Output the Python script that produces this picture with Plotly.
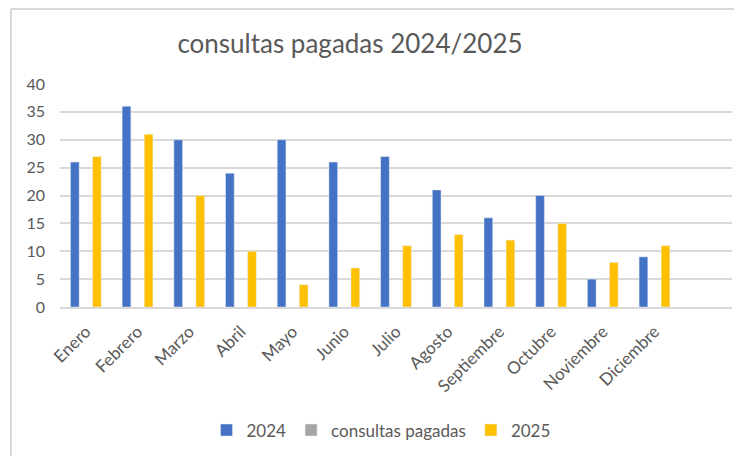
import plotly.graph_objects as go

months = ["Enero", "Febrero", "Marzo", "Abril", "Mayo", "Junio", "Julio",
          "Agosto", "Septiembre", "Octubre", "Noviembre", "Diciembre"]
v2024 = [26, 36, 30, 24, 30, 26, 27, 21, 16, 20, 5, 9]
v_pagadas = [None] * 12
v2025 = [27, 31, 20, 10, 4, 7, 11, 13, 12, 15, 8, 11]

# page has an 8px body margin; work in target-window pixels and shift
OFF = 8
W, H = 742 - OFF, 456 - OFF
L = 60 - OFF
R = 742 - 732
T = 84 - OFF
B = H - (306.7 - OFF)
pw, ph = W - L - R, H - T - B

def px(x):
    return (x - OFF - L) / pw

def py(y):
    return (H - B - (y - OFF)) / ph

FONT = "Lato"
TXT = "#595959"

fig = go.Figure()
fig.add_trace(go.Bar(name="2024", x=months, y=v2024, marker_color="#4472C4"))
fig.add_trace(go.Bar(name="consultas pagadas", x=months, y=v_pagadas, marker_color="#A5A5A5"))
fig.add_trace(go.Bar(name="2025", x=months, y=v2025, marker_color="#FFC000"))

fig.update_layout(
    width=W, height=H,
    margin=dict(l=L, r=R, t=T, b=B, autoexpand=False),
    paper_bgcolor="white", plot_bgcolor="white",
    barmode="group", bargap=0.36, bargroupgap=0.21,
    font=dict(family=FONT, color=TXT),
    title=dict(text="consultas pagadas 2024/2025", x=px(350), xanchor="center",
               xref="paper", y=1 - (44 - OFF) / H, yanchor="middle",
               font=dict(size=26, color=TXT, family=FONT)),
    legend=dict(orientation="h", x=px(381), xanchor="center", y=py(430), yanchor="middle",
                font=dict(size=17, color=TXT), itemwidth=30, traceorder="normal"),
    xaxis=dict(type="category", range=[-0.5, 12.5], tickangle=-45, automargin=False,
               tickfont=dict(size=17, color=TXT), showgrid=False, ticklabelstandoff=6,
               showline=True, linecolor="#d9d9d9", linewidth=2, ticks=""),
    yaxis=dict(range=[0, 40], dtick=5, tickfont=dict(size=16, color=TXT), automargin=False,
               gridcolor="#d9d9d9", gridwidth=1.5, showline=False, zeroline=False,
               ticks="", ticklabelstandoff=14),
    shapes=[
        dict(type="line", xref="paper", yref="paper", x0=px(11), x1=px(742),
             y0=py(9), y1=py(9), line=dict(color="#d9d9d9", width=2)),
        dict(type="line", xref="paper", yref="paper", x0=px(11), x1=px(11),
             y0=py(9), y1=py(456), line=dict(color="#d9d9d9", width=2)),
    ],
)

fig.write_html("out.html")
